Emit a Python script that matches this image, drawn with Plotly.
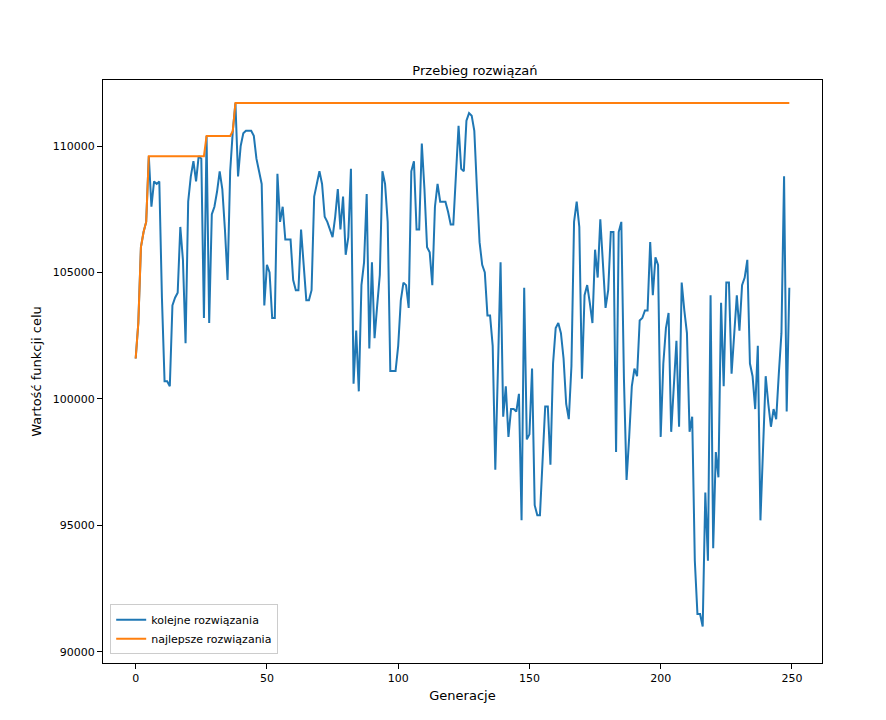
import numpy as np
import plotly.graph_objects as go

# kolejne rozwiązania (generacje 0..249)
kolejne = [
    101600, 103000, 106000, 106600, 107000, 109600, 107600, 108600, 108500, 108600,
    104000, 100700, 100700, 100500, 103700, 104000, 104200, 106800, 105500, 102200,
    107800, 108800, 109400, 108600, 109600, 109500, 103200, 110400, 103000, 107300,
    107600, 108200, 109000, 108300, 106700, 104700, 109000, 110600, 111700, 108800,
    110000, 110500, 110600, 110600, 110600, 110400, 109500, 109000, 108500, 103700,
    105300, 105000, 103200, 103200, 108900, 107000, 107600, 106300, 106300, 106300,
    104700, 104300, 104300, 106700, 105300, 103900, 103900, 104300, 108000, 108500,
    109000, 108500, 107200, 107000, 106700, 106400, 107200, 108300, 106700, 108000,
    105700, 106400, 109100, 100600, 102700, 100300, 104500, 105400, 108100, 102000,
    105400, 102400, 103700, 104900, 109000, 108500, 107000, 101100, 101100, 101100,
    102100, 103900, 104600, 104500, 103600, 109000, 109400, 106700, 106700, 110100,
    108300, 106000, 105800, 104500, 107600, 108500, 107800, 107800, 107800, 107400,
    106900, 106900, 109000, 110800, 109100, 109000, 111000, 111300, 111200, 110600,
    108300, 106200, 105300, 105000, 103300, 103300, 102100, 97200, 101200, 105400,
    99300, 100500, 98500, 99600, 99600, 99500, 100200, 95200, 104400, 98400,
    98600, 101200, 95800, 95400, 95400, 97900, 99700, 99700, 97400, 101400,
    102800, 103000, 102600, 101600, 99800, 99200, 101300, 107000, 107800, 106800,
    100800, 104100, 104500, 103800, 103000, 105900, 104800, 107100, 105100, 103600,
    104300, 106600, 106600, 97900, 106600, 107000, 100800, 96800, 98500, 100500,
    101200, 100900, 103100, 103200, 103500, 103500, 106200, 104100, 105600, 105300,
    98500, 101400, 102800, 103400, 98700, 100800, 102300, 98900, 104600, 103500,
    102600, 98700, 99300, 93600, 91500, 91500, 91000, 96300, 93600, 104100,
    94100, 97900, 96900, 103800, 100500, 104600, 104600, 101000, 102500, 104100,
    102700, 104500, 104800, 105500, 101400, 100900, 99600, 102100, 95200, 98300,
    100900, 99800, 98900, 99600, 99200, 101000, 102600, 108800, 99500, 104400,
]
generacje = list(range(len(kolejne)))
najlepsze = np.maximum.accumulate(kolejne).tolist()

fig = go.Figure()
fig.add_trace(go.Scatter(x=generacje, y=kolejne, mode="lines", name="kolejne rozwiązania",
                         line=dict(color="#1f77b4", width=2)))
fig.add_trace(go.Scatter(x=generacje, y=najlepsze, mode="lines", name="najlepsze rozwiązania",
                         line=dict(color="#ff7f0e", width=2)))

axis_style = dict(showgrid=False, zeroline=False, showline=True, linecolor="black", linewidth=1,
                  mirror=True, ticks="outside", ticklen=5, tickcolor="black",
                  tickfont=dict(size=11))
fig.update_layout(
    width=886, height=720,
    margin=dict(l=95, r=72, t=72, b=65),
    plot_bgcolor="white", paper_bgcolor="white",
    font=dict(family="DejaVu Sans", size=11, color="black"),
    title=dict(text="Przebieg rozwiązań", x=0.527, xanchor="center", y=0.92, font=dict(size=13)),
    xaxis=dict(axis_style, range=[-12.45, 261.45], tickvals=[0, 50, 100, 150, 200, 250],
               title=dict(text="Generacje", standoff=6)),
    yaxis=dict(axis_style, range=[89560, 112610], tickvals=[90000, 95000, 100000, 105000, 110000],
               tickformat="d", title=dict(text="Wartość funkcji celu", standoff=8)),
    legend=dict(x=0.01, y=0.015, xanchor="left", yanchor="bottom", bgcolor="white",
                bordercolor="#cccccc", borderwidth=1, font=dict(size=11)),
)
fig.write_html("out.html")
